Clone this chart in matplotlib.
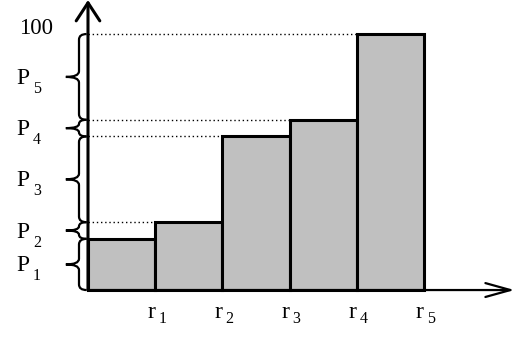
import numpy as np
import matplotlib.pyplot as plt
from matplotlib.path import Path
from matplotlib.patches import PathPatch, Rectangle
from matplotlib.transforms import offset_copy

plt.rcParams['font.family'] = ['Liberation Serif', 'DejaVu Serif']

# bar heights (cumulative values)
values = [20, 26.5, 60, 66.5, 100]
r_labels = ['r', 'r', 'r', 'r', 'r']
r_subs = ['1', '2', '3', '4', '5']
p_labels = ['P', 'P', 'P', 'P', 'P']
p_subs = ['1', '2', '3', '4', '5']
top_label = '100'

fig = plt.figure(figsize=(5.30, 3.42), dpi=100)
ax = fig.add_axes([0, 0, 1, 1])
ax.set_xlim(-1.31, 6.58)
ax.set_ylim(-20.3, 113.3)
ax.axis('off')

def shifted(dx, dy):
	# data transform moved by some pixels
	return offset_copy(ax.transData, fig=fig, x=dx, y=dy, units='dots')

# bars
n = len(values)
for i in range(n):
	ax.add_patch(Rectangle((i, 0), 1, values[i], facecolor='#c0c0c0',
		edgecolor='black', lw=2.2, zorder=3))

# dotted guide lines from the axis to the bar tops
for i in range(1, n):
	ax.plot([0, i], [values[i], values[i]], color='black', lw=1.0,
		linestyle=(0, (1, 2)), zorder=2)

# axes with arrows
ax.annotate('', xy=(0, 113.3), xytext=(0, 0),
	arrowprops=dict(arrowstyle='->,head_length=1.3,head_width=0.85',
		lw=2.2, color='black', mutation_scale=10, shrinkA=0, shrinkB=0), zorder=4)
ax.annotate('', xy=(6.35, 0), xytext=(0, 0),
	arrowprops=dict(arrowstyle='->,head_length=1.8,head_width=0.5',
		lw=1.6, color='black', mutation_scale=10, shrinkA=0, shrinkB=0), zorder=4)

# curly braces left of the y axis
def brace(y0, y1, xs=-0.134, xr=-0.02, xt=-0.33, r=2.2):
	ym = (y0 + y1) / 2.0
	r = min(r, (y1 - y0) / 4.0)
	verts = [(xr, y0), (xs, y0), (xs, y0 + r),
		(xs, ym - r), (xs, ym), (xt, ym),
		(xs, ym), (xs, ym + r),
		(xs, y1 - r), (xs, y1), (xr, y1)]
	codes = [Path.MOVETO, Path.CURVE3, Path.CURVE3,
		Path.LINETO, Path.CURVE3, Path.CURVE3,
		Path.CURVE3, Path.CURVE3,
		Path.LINETO, Path.CURVE3, Path.CURVE3]
	ax.add_patch(PathPatch(Path(verts, codes), fill=False, lw=1.6,
		edgecolor='black', zorder=4))
	return ym

lower = 0
for i in range(n):
	ym = brace(lower, values[i])
	ax.text(-1.06, ym, p_labels[i], fontsize=17, ha='left', va='baseline',
		transform=shifted(0, -7))
	ax.text(-1.06, ym, p_subs[i], fontsize=11.5, ha='left', va='baseline',
		transform=shifted(16, -16))
	lower = values[i]

ax.text(-1.02, 100, top_label, fontsize=16.5, ha='left', va='baseline')

# r labels under the right edge of each bar
for i in range(n):
	ax.text(i + 1, -10.9, r_labels[i], fontsize=17, ha='left', va='baseline',
		transform=shifted(-8, 0))
	ax.text(i + 1, -10.9, r_subs[i], fontsize=11.5, ha='left', va='baseline',
		transform=shifted(3, -5))

plt.savefig('out.png', dpi=100)
plt.close()
